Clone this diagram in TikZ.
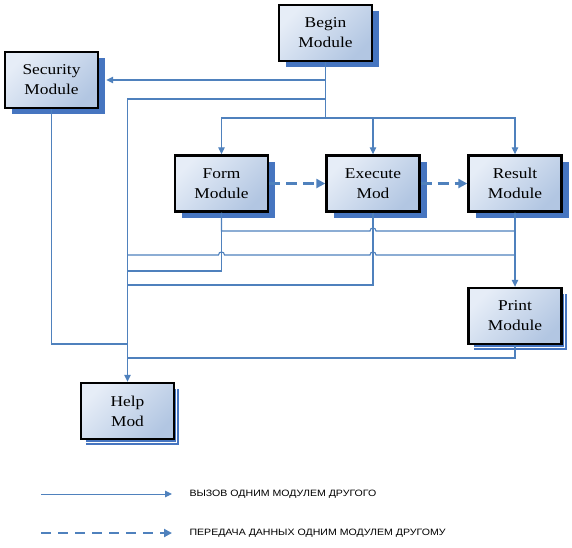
\documentclass[tikz,border=0pt]{standalone}
\usepackage{fontspec}
\setmainfont{Liberation Serif}
\newfontfamily\boxfont[FakeStretch = 1.16]{Liberation Serif}
\newfontfamily\legendfont[FakeStretch = 1.15]{Liberation Sans}
\usetikzlibrary{arrows.meta, shadows}

\definecolor{linkblue}{RGB}{79,129,189}
\definecolor{shadeblue}{RGB}{70,117,192}
\definecolor{filllight}{RGB}{230,237,247}
\definecolor{filldark}{RGB}{178,198,226}

\tikzset{
	module/.style = {draw = black, line width = 2.4pt, minimum width = 93pt, minimum height = 56pt, align = center, top color = filllight, bottom color = filldark, shading angle = 45, font = \boxfont\fontsize{15}{20}\selectfont},
	boxshadow/.style = {general shadow = {fill = shadeblue, shadow xshift = 7pt, shadow yshift = -6pt}},
	splitshadow/.style = {general shadow = {fill = shadeblue, shadow xshift = 5pt, shadow yshift = -6pt}, general shadow = {draw = white, fill = none, line width = 1pt, shadow xshift = 2.5pt, shadow yshift = -3pt}},
	call/.style = {draw = linkblue, line width = 1.1pt},
	pass/.style = {draw = linkblue, line width = 2.4pt, dash pattern = on 11pt off 6pt}
}

\begin{document}
\begin{tikzpicture}[x = 1pt, y = -1pt, > = {Triangle[length = 7pt, width = 6.5pt]}, font = \legendfont\fontsize{9.2}{11}\selectfont]

	\useasboundingbox (0, 0) rectangle (572, 547);

	% Modules

		\node (begin) [module, boxshadow] at (325.5, 33) {Begin\\Module};
		\node (security) [module, boxshadow] at (51.5, 80) {Security\\Module};
		\node (form) [module, boxshadow] at (221.5, 183.5) {Form\\Module};
		\node (execute) [module, boxshadow] at (373, 183.5) {Execute\\Mod};
		\node (result) [module, boxshadow] at (515, 183.5) {Result\\Module};
		\node (print) [module, splitshadow] at (515, 316) {Print\\Module};
		\node (help) [module, splitshadow] at (127.5, 411) {Help\\Mod};

	% Calls

		\coordinate (hopA) at (execute.south |- 0,231);
		\coordinate (hopB) at (execute.south |- 0,255);
		\coordinate (hopC) at (form.south |- 0,255);

		\begin{scope}[call]

			\draw [->, shorten > = 7pt] (begin.south) |- (security.east);
			\draw [->] (begin.south) |- (help.north |- 0,99) -- (help.north);
			\draw [->] (begin.south) |- (form.north |- 0,118) -- (form.north);
			\draw [->] (begin.south) |- (result.north |- 0,118) -- (result.north);
			\draw [->] (execute.north |- 0,118) -- (execute.north);

			\draw (security.south) |- (help.north |- 0,344);
			\draw (print.south) |- (help.north |- 0,358);
			\draw (form.south) |- (help.north |- 0,271);
			\draw (execute.south) |- (help.north |- 0,285);

			\draw (form.south) |- ([xshift = -3pt]hopA) .. controls +(0,-4) and +(0,-4) .. ([xshift = 3pt]hopA) -- (result.south |- hopA);
			\draw (result.south) |- ([xshift = 3pt]hopB) .. controls +(0,-4) and +(0,-4) .. ([xshift = -3pt]hopB) -- ([xshift = 3pt]hopC) .. controls +(0,-4) and +(0,-4) .. ([xshift = -3pt]hopC) -- (help.north |- hopB);
			\draw [->] (result.south) -- (print.north);

		\end{scope}

	% Data passing

		\begin{scope}[pass, -{Triangle[length = 9pt, width = 9pt]}]

			\draw (form.east) -- (execute.west);
			\draw (execute.east) -- (result.west);

		\end{scope}

	% Legend

		\coordinate (callfrom) at (41, 494);
		\coordinate (callto) at (172, 494);
		\coordinate (passfrom) at (41, 533);
		\coordinate (passto) at (172, 533);

		\draw [call, line width = 1pt, ->] (callfrom) -- (callto);
		\node (calltext) [anchor = west] at (186, 494) {ВЫЗОВ ОДНИМ МОДУЛЕМ ДРУГОГО};

		\draw [pass, line width = 2pt, dash pattern = on 10pt off 7pt, -{Triangle[length = 8pt, width = 8pt]}] (passfrom) -- (passto);
		\node (passtext) [anchor = west] at (186, 533) {ПЕРЕДАЧА ДАННЫХ ОДНИМ МОДУЛЕМ ДРУГОМУ};

\end{tikzpicture}
\end{document}
